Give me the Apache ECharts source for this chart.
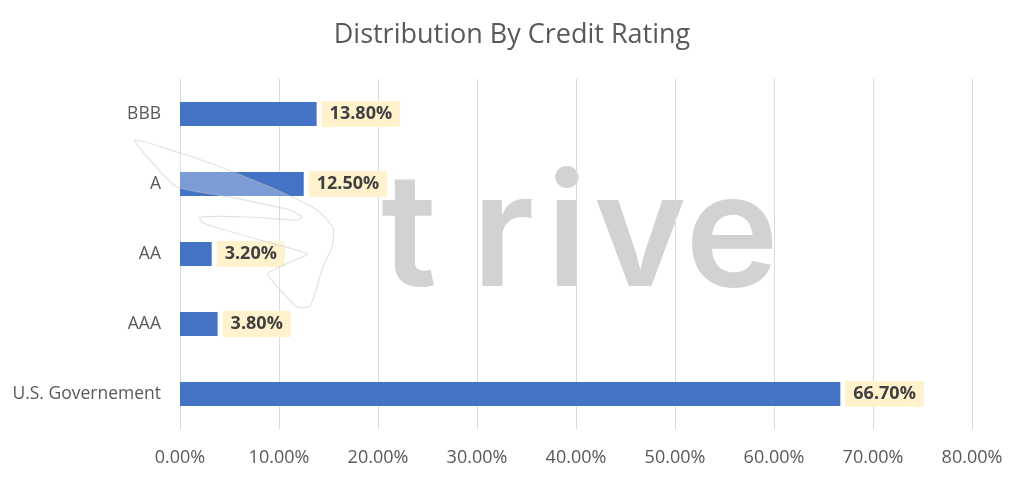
<!DOCTYPE html>
<html><head><meta charset="utf-8">
<script src="https://cdn.jsdelivr.net/npm/echarts@6/dist/echarts.min.js"></script>
<style>html,body{margin:0;padding:0;background:#fff}#c{width:1024px;height:477px}</style>
</head><body><div id="c"></div>
<script>
const categories = ['U.S. Governement', 'AAA', 'AA', 'A', 'BBB'];
const values = [66.7, 3.8, 3.2, 12.5, 13.8];
const xTicks = [0, 10, 20, 30, 40, 50, 60, 70, 80];
const titleText = 'Distribution By Credit Rating';
const watermarkLetters = ['t', 'r', 'i', 'v', 'e'];

const letterX = [409, 503, 567, 640, 732];
const wmGraphics = watermarkLetters.map((ch, i) => ({
  type: 'text', z: -1, silent: true,
  style: {text: ch, x: letterX[i], y: 238, align: 'center', verticalAlign: 'middle',
    fontFamily: 'Inter', fontWeight: 600, fontSize: 158, fill: 'rgba(165,165,165,0.5)'}
}));
const logo = {
  type: 'polygon', z: 100, silent: true,
  shape: {smooth: 0.2, points: [
    [135,140],[210,163],[277,190],[317,210],[333,228],[332,247],[323,267],[315,293],
    [310,306],[297,307],[270,278],[268,273],[290,262],[307,254],[260,240],[203,223],
    [200,217],[250,217],[297,220],[302,217],[290,210],[230,197],[177,187],[150,160]
  ]},
  style: {fill: 'rgba(255,255,255,0.3)', stroke: 'rgba(190,190,190,0.45)', lineWidth: 1.2}
};

const chart = echarts.init(document.getElementById('c'));
chart.setOption({
  animation: false,
  title: {
    text: titleText, left: 'center', top: 17,
    textStyle: {fontFamily: 'Open Sans', fontSize: 27, fontWeight: 'normal', color: '#595959'}
  },
  graphic: wmGraphics.concat([logo]),
  grid: {left: 180, right: 52, top: 79, bottom: 48, containLabel: false},
  xAxis: {
    type: 'value', min: 0, max: 80, interval: 10,
    axisLine: {show: false}, axisTick: {show: false},
    splitLine: {lineStyle: {color: '#d9d9d9', width: 1}},
    axisLabel: {color: '#595959', fontSize: 18, fontFamily: 'Open Sans', margin: 20,
      formatter: v => xTicks.includes(v) ? v.toFixed(2) + '%' : ''}
  },
  yAxis: {
    type: 'category', data: categories,
    axisLine: {show: false}, axisTick: {show: false},
    axisLabel: {color: '#595959', fontSize: 17.5, fontFamily: 'Open Sans', margin: 19}
  },
  series: [{
    type: 'bar', data: values, barWidth: 24,
    itemStyle: {color: '#4472C4'},
    label: {
      show: true, position: 'right', distance: 5,
      formatter: p => p.value.toFixed(2) + '%',
      color: '#404040', fontWeight: 'bold', fontSize: 18, fontFamily: 'Open Sans',
      backgroundColor: '#FFF2CC', padding: [5, 8, 3, 8]
    }
  }]
});
</script></body></html>
